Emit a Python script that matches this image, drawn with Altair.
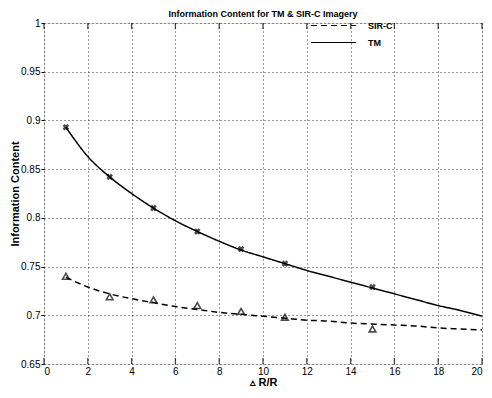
import altair as alt
import pandas as pd

# curve samples
x_curve = list(range(1, 21))
tm_curve = [0.893, 0.863, 0.842, 0.825, 0.810, 0.797, 0.786, 0.776, 0.767, 0.760,
            0.753, 0.746, 0.740, 0.734, 0.728, 0.722, 0.716, 0.710, 0.705, 0.699]
sirc_curve = [0.739, 0.729, 0.722, 0.717, 0.713, 0.709, 0.706, 0.703, 0.701, 0.699,
              0.697, 0.695, 0.694, 0.692, 0.691, 0.690, 0.689, 0.687, 0.686, 0.685]

# measured markers
x_markers = [1, 3, 5, 7, 9, 11, 15]
tm_markers = [0.893, 0.842, 0.810, 0.786, 0.768, 0.753, 0.729]
sirc_markers = [0.740, 0.719, 0.716, 0.710, 0.704, 0.698, 0.686]

x_ticks = [0, 2, 4, 6, 8, 10, 12, 14, 16, 18, 20]
y_ticks = [0.65, 0.7, 0.75, 0.8, 0.85, 0.9, 0.95, 1.0]
series_order = ["SIR-C", "TM"]

curves = pd.DataFrame({
    "x": x_curve * 2,
    "y": sirc_curve + tm_curve,
    "series": ["SIR-C"] * len(x_curve) + ["TM"] * len(x_curve),
})
tm_pts = pd.DataFrame({"x": x_markers, "y": tm_markers})
sirc_pts = pd.DataFrame({"x": x_markers, "y": sirc_markers})
ticks_df = pd.DataFrame({"x": x_ticks})

FONT = "Liberation Sans"
W, H = 438, 341
xs = alt.Scale(domain=[0, 20], nice=False, zero=False)
ys = alt.Scale(domain=[0.65, 1.0], nice=False, zero=False)

x_axis = alt.Axis(values=x_ticks, grid=True, gridDash=[1, 3], gridColor="black",
                  gridOpacity=0.8, ticks=False, labelPadding=2, domain=False,
                  title="\u25b5 R/R", titlePadding=0)
y_axis = alt.Axis(values=y_ticks, grid=True, gridDash=[1, 3], gridColor="black",
                  gridOpacity=0.8, tickSize=3, tickColor="black", format="~g",
                  domain=False, title="Information Content", titlePadding=0,
                  labelPadding=1)

lines = alt.Chart(curves).mark_line(color="black", strokeWidth=1.5, interpolate="monotone").encode(
    x=alt.X("x:Q", scale=xs, axis=x_axis),
    y=alt.Y("y:Q", scale=ys, axis=y_axis),
    strokeDash=alt.StrokeDash(
        "series:N",
        scale=alt.Scale(domain=series_order, range=[[6, 4], [1, 0]]),
        sort=series_order,
        legend=alt.Legend(title=None, orient="none", legendX=281, legendY=-6,
                          symbolType="M-3,0H3", symbolSize=225, symbolStrokeColor="black",
                          symbolStrokeWidth=1.2, symbolFillColor="transparent",
                          labelFont=FONT, labelFontSize=9,
                          labelFontWeight="bold", labelColor="black", rowPadding=3,
                          labelOffset=26, padding=0),
    ),
    detail="series:N",
)

tm_marks = alt.Chart(tm_pts).mark_point(shape="cross", angle=45, size=45, filled=True,
                                        color="black").encode(
    x=alt.X("x:Q", scale=xs), y=alt.Y("y:Q", scale=ys))
sirc_marks = alt.Chart(sirc_pts).mark_point(shape="triangle-up", size=45, filled=False,
                                            color="black", strokeWidth=1.6).encode(
    x=alt.X("x:Q", scale=xs), y=alt.Y("y:Q", scale=ys))

bottom_ticks = alt.Chart(ticks_df).mark_tick(orient="vertical", color="black", size=6,
                                             thickness=1.3).encode(
    x=alt.X("x:Q", scale=xs), y=alt.value(H - 3))
top_ticks = alt.Chart(ticks_df).mark_tick(orient="vertical", color="black", size=6,
                                          thickness=1.3).encode(
    x=alt.X("x:Q", scale=xs), y=alt.value(3))

chart = alt.layer(lines, tm_marks, sirc_marks, bottom_ticks, top_ticks).properties(
    width=W, height=H,
    title=alt.TitleParams("Information Content for TM & SIR-C Imagery", font=FONT,
                          fontSize=9, fontWeight="bold", color="black", offset=1, dy=3),
    autosize=alt.AutoSizeParams(type="none"),
    padding={"left": 36, "top": 15, "right": 2, "bottom": 26},
).configure_view(stroke="black", strokeWidth=1.5).configure_axis(
    labelFont=FONT, labelFontSize=9, labelFontWeight="bold", labelColor="black",
    titleFont=FONT, titleFontSize=9, titleFontWeight="bold", titleColor="black",
).configure(background="white")

chart.save("out.html", embed_options={"renderer": "svg", "actions": False})
